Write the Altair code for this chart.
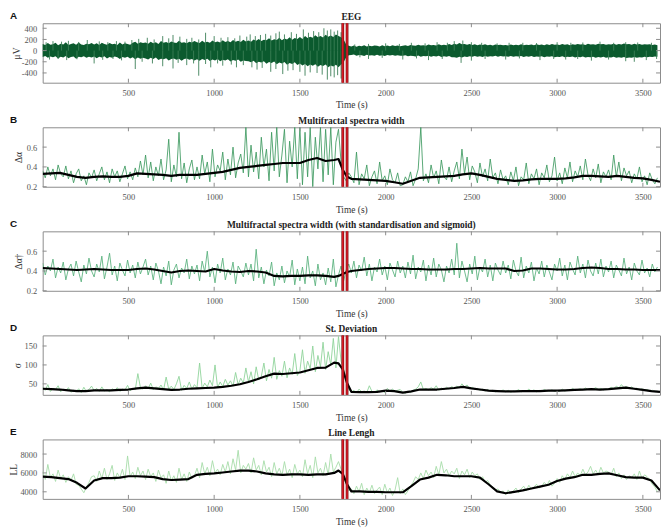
import altair as alt
import pandas as pd

# ---------------- data ----------------
T_SMOOTH = list(range(0, 1701, 50)) + [1725, 1750, 1775] + list(range(1800, 3601, 50))
STEP = 15  # sampling of the noisy traces (s)
X_TICKS = [500, 1000, 1500, 2000, 2500, 3000, 3500]
SEIZURE = [1750, 1775]

# Panel A: EEG dense band (upper / lower envelope every 15 s) and large spikes
EEG_HI = [120, 100, 135, 105, 115, 140, 95, 125, 110, 150, 100, 120, 130, 105, 145, 110, 100, 125, 115, 135,
          110, 130, 100, 140, 120, 105, 135, 115, 125, 100, 145, 110, 130, 120, 105, 140, 160, 125, 150, 135,
          145, 125, 160, 130, 150, 120, 170, 140, 155, 130, 165, 145, 135, 175, 140, 150, 130, 160, 145, 170,
          150, 135, 175, 145, 160, 140, 180, 150, 165, 145, 185, 155, 170, 150, 190, 160, 175, 155, 195, 165,
          180, 160, 200, 175, 210, 170, 195, 185, 220, 180, 205, 190, 230, 185, 215, 200, 240, 195, 225, 210,
          245, 210, 260, 225, 250, 230, 275, 240, 260, 235, 285, 250, 270, 245, 290, 260, 240, 200, 110, 85,
          75, 90, 70, 85, 80, 95, 72, 88, 78, 92, 85, 75, 95, 80, 90, 78, 98, 84, 92, 80,
          88, 95, 82, 100, 90, 85, 105, 92, 98, 88, 110, 95, 102, 90, 115, 98, 105, 94, 120, 100,
          125, 110, 135, 115, 120, 105, 118, 100, 112, 96, 108, 100, 115, 98, 105, 92, 110, 100, 104, 95,
          100, 92, 108, 96, 104, 98, 112, 95, 106, 100, 110, 97, 115, 102, 108, 96, 112, 100, 118, 104,
          110, 100, 118, 105, 112, 98, 115, 104, 120, 108, 114, 102, 122, 110, 116, 104, 125, 112, 118, 106,
          115, 108, 122, 104, 118, 110, 126, 112, 120, 106, 124, 110, 118, 104, 116, 108, 112, 102, 110, 98]
EEG_LO = [-115, -95, -130, -105, -120, -100, -140, -110, -125, -95, -135, -115, -105, -145, -110, -120, -100, -130, -110, -125,
          -105, -135, -110, -125, -100, -140, -115, -130, -105, -120, -150, -115, -130, -110, -140, -120, -155, -125, -145, -130,
          -140, -160, -130, -150, -125, -170, -145, -155, -135, -175, -150, -140, -165, -145, -180, -150, -140, -165, -150, -175,
          -155, -180, -150, -170, -145, -185, -160, -175, -150, -190, -165, -175, -155, -195, -170, -180, -160, -200, -175, -185,
          -190, -210, -180, -225, -200, -215, -190, -235, -205, -220, -195, -245, -215, -230, -205, -255, -220, -240, -210, -260,
          -230, -265, -240, -280, -250, -270, -245, -290, -260, -275, -250, -300, -265, -285, -255, -300, -250, -210, -120, -85,
          -80, -70, -90, -78, -85, -95, -75, -88, -82, -92, -76, -90, -84, -96, -80, -88, -78, -94, -85, -90,
          -92, -85, -100, -90, -96, -105, -88, -110, -95, -102, -90, -112, -98, -106, -94, -115, -100, -108, -96, -120,
          -118, -130, -110, -125, -105, -115, -100, -112, -98, -108, -102, -115, -96, -110, -100, -106, -94, -112, -98, -104,
          -100, -108, -95, -112, -100, -106, -96, -114, -102, -110, -98, -116, -104, -108, -100, -118, -106, -112, -102, -120,
          -108, -116, -102, -120, -110, -114, -104, -122, -112, -118, -106, -124, -114, -120, -108, -126, -116, -122, -110, -128,
          -118, -124, -112, -130, -120, -126, -114, -132, -122, -128, -116, -126, -118, -122, -112, -120, -108, -116, -104, -110]
SPIKE_T = [20, 60, 110, 150, 210, 260, 330, 380, 430, 480,
           40, 90, 140, 200, 300, 350, 410, 460,
           520, 560, 610, 650, 700, 735, 760, 800, 840, 870, 910, 950, 1000, 1040, 1080, 1120, 1150, 1190,
           540, 580, 640, 700, 760, 790, 840, 880, 910, 950, 980, 1020, 1050, 1100, 1130, 1170,
           1210, 1240, 1270, 1300, 1330, 1360, 1380, 1410, 1450, 1480, 1520, 1550, 1580, 1610, 1640, 1660, 1680, 1700, 1720, 1740,
           1220, 1250, 1280, 1330, 1360, 1400, 1430, 1460, 1500, 1530, 1560, 1600, 1630, 1660, 1680, 1700, 1720, 1740,
           1820, 1900, 2000, 2080, 2150, 2230, 2300, 2360, 2400, 2450, 2500, 2560, 2650, 2720, 2800, 2880, 3000, 3080, 3150, 3250, 3330, 3400, 3470, 3550,
           1850, 1900, 1980, 2100, 2180, 2250, 2330, 2440, 2500, 2580, 2700, 2780, 2900, 2980, 3050, 3120, 3200, 3300, 3400, 3450, 3520, 3580]
SPIKE_V = [150, 170, 160, 175, 155, 190, 165, 150, 170, 160,
           -160, -150, -170, -155, -230, -165, -150, -175,
           190, 210, 230, 200, 260, 220, 280, 250, 210, 230, 200, 320, 260, 230, 240, 220, 270, 250,
           -330, -200, -230, -280, -320, -220, -260, -230, -450, -240, -300, -230, -270, -250, -300, -260,
           290, 260, 280, 300, 270, 310, 340, 290, 330, 300, 380, 320, 350, 330, 400, 360, 380, 340, 360, 330,
           -300, -340, -310, -380, -330, -420, -360, -350, -380, -450, -390, -400, -430, -520, -460, -480, -440, -500,
           110, 120, 130, 120, 140, 130, 150, 140, 170, 180, 150, 140, 130, 140, 140, 135, 150, 140, 145, 160, 140, 150, 145, 140,
           -120, -150, -130, -160, -140, -170, -150, -220, -180, -150, -160, -140, -170, -150, -160, -150, -180, -160, -190, -200, -170, -150]

# Panel B: multifractal spectra width
B_GREEN = [0.36, 0.29, 0.40, 0.31, 0.38, 0.27, 0.42, 0.33, 0.30, 0.41, 0.28, 0.36, 0.24, 0.33, 0.38, 0.26, 0.31, 0.22, 0.34, 0.29,
           0.37, 0.26, 0.33, 0.40, 0.27, 0.35, 0.24, 0.38, 0.30, 0.36, 0.25, 0.33, 0.41, 0.28, 0.35, 0.27, 0.39, 0.30, 0.46, 0.32,
           0.52, 0.29, 0.45, 0.26, 0.40, 0.31, 0.48, 0.27, 0.37, 0.68, 0.25, 0.42, 0.30, 0.75, 0.28, 0.44, 0.24, 0.38, 0.47, 0.27,
           0.40, 0.28, 0.52, 0.33, 0.45, 0.25, 0.58, 0.30, 0.42, 0.36, 0.55, 0.27, 0.48, 0.32, 0.60, 0.29, 0.44, 0.53, 0.34, 0.80,
           0.30, 0.62, 0.35, 0.55, 0.28, 0.70, 0.40, 0.58, 0.26, 0.75, 0.36, 0.80, 0.30, 0.52, 0.78, 0.24, 0.66, 0.40, 0.80, 0.28,
           0.80, 0.22, 0.75, 0.30, 0.80, 0.20, 0.70, 0.38, 0.80, 0.25, 0.78, 0.32, 0.80, 0.22, 0.65, 0.78, 0.45, 0.30, 0.26, 0.34,
           0.30, 0.24, 0.55, 0.22, 0.33, 0.28, 0.42, 0.21, 0.30, 0.36, 0.23, 0.45, 0.26, 0.31, 0.22, 0.38, 0.27, 0.24, 0.34, 0.21,
           0.22, 0.30, 0.25, 0.35, 0.21, 0.28, 0.38, 0.80, 0.26, 0.33, 0.24, 0.42, 0.29, 0.36, 0.23, 0.47, 0.30, 0.27, 0.40, 0.25,
           0.36, 0.45, 0.28, 0.58, 0.33, 0.50, 0.27, 0.41, 0.35, 0.24, 0.44, 0.30, 0.38, 0.26, 0.48, 0.29, 0.34, 0.23, 0.37, 0.27,
           0.31, 0.22, 0.35, 0.26, 0.40, 0.21, 0.30, 0.27, 0.44, 0.23, 0.33, 0.28, 0.38, 0.22, 0.34, 0.29, 0.42, 0.25, 0.31, 0.50,
           0.26, 0.34, 0.23, 0.39, 0.29, 0.45, 0.25, 0.36, 0.30, 0.41, 0.27, 0.48, 0.32, 0.26, 0.38, 0.29, 0.43, 0.24, 0.35, 0.30,
           0.37, 0.27, 0.52, 0.30, 0.45, 0.26, 0.39, 0.31, 0.36, 0.24, 0.33, 0.28, 0.40, 0.25, 0.31, 0.22, 0.34, 0.27, 0.23, 0.29]
B_BLACK = [0.33, 0.335, 0.34, 0.32, 0.30, 0.29, 0.30, 0.305, 0.30, 0.30,
           0.31, 0.335, 0.33, 0.325, 0.32, 0.31, 0.32, 0.32, 0.32, 0.33,
           0.34, 0.35, 0.37, 0.39, 0.40, 0.41, 0.42, 0.43, 0.44, 0.44,
           0.44, 0.47, 0.49, 0.46, 0.47,
           0.48, 0.37, 0.30,
           0.28, 0.275, 0.27, 0.265, 0.26, 0.245, 0.23, 0.26, 0.29, 0.295,
           0.30, 0.305, 0.31, 0.325, 0.335, 0.32, 0.30, 0.28, 0.27, 0.26,
           0.265, 0.275, 0.28, 0.28, 0.28, 0.285, 0.295, 0.31, 0.31, 0.305,
           0.30, 0.31, 0.30, 0.29, 0.285, 0.27, 0.25]

# Panel C: multifractal spectra width (standardised + sigmoid)
C_GREEN = [0.48, 0.36, 0.45, 0.40, 0.52, 0.33, 0.44, 0.38, 0.49, 0.31, 0.42, 0.47, 0.35, 0.50, 0.39, 0.29, 0.46, 0.37, 0.53, 0.40,
           0.34, 0.47, 0.39, 0.55, 0.32, 0.44, 0.58, 0.36, 0.45, 0.30, 0.48, 0.41, 0.35, 0.51, 0.38, 0.46, 0.33, 0.49, 0.37, 0.44,
           0.52, 0.36, 0.45, 0.31, 0.48, 0.40, 0.27, 0.44, 0.35, 0.50, 0.26, 0.41, 0.47, 0.33, 0.43, 0.38, 0.52, 0.32, 0.45, 0.37,
           0.46, 0.30, 0.50, 0.39, 0.60, 0.34, 0.44, 0.28, 0.47, 0.38, 0.53, 0.31, 0.42, 0.36, 0.49, 0.27, 0.45, 0.40, 0.34, 0.48,
           0.36, 0.47, 0.30, 0.62, 0.33, 0.44, 0.27, 0.41, 0.35, 0.49, 0.25, 0.38, 0.31, 0.45, 0.28, 0.40, 0.34, 0.51, 0.26, 0.42,
           0.30, 0.44, 0.27, 0.55, 0.33, 0.40, 0.25, 0.47, 0.31, 0.38, 0.26, 0.43, 0.29, 0.52, 0.24, 0.36, 0.45, 0.30, 0.41, 0.47,
           0.38, 0.50, 0.33, 0.46, 0.40, 0.54, 0.35, 0.47, 0.30, 0.44, 0.39, 0.52, 0.36, 0.45, 0.31, 0.48, 0.41, 0.34, 0.50, 0.38,
           0.45, 0.33, 0.49, 0.37, 0.56, 0.32, 0.44, 0.39, 0.51, 0.30, 0.46, 0.36, 0.53, 0.34, 0.47, 0.41, 0.29, 0.45, 0.38, 0.52,
           0.36, 0.68, 0.33, 0.50, 0.40, 0.29, 0.47, 0.37, 0.55, 0.31, 0.44, 0.39, 0.52, 0.34, 0.46, 0.30, 0.48, 0.41, 0.36, 0.50,
           0.38, 0.46, 0.32, 0.51, 0.40, 0.35, 0.54, 0.33, 0.45, 0.38, 0.49, 0.30, 0.43, 0.37, 0.50, 0.34, 0.46, 0.39, 0.31, 0.47,
           0.40, 0.53, 0.35, 0.46, 0.31, 0.49, 0.42, 0.36, 0.55, 0.38, 0.47, 0.33, 0.51, 0.40, 0.35, 0.48, 0.37, 0.52, 0.34, 0.45,
           0.39, 0.50, 0.33, 0.46, 0.41, 0.35, 0.53, 0.37, 0.44, 0.31, 0.48, 0.40, 0.36, 0.51, 0.38, 0.43, 0.34, 0.47, 0.39, 0.44]
C_BLACK = [0.43, 0.425, 0.42, 0.415, 0.41, 0.415, 0.42, 0.415, 0.41, 0.41,
           0.41, 0.42, 0.425, 0.415, 0.40, 0.385, 0.40, 0.405, 0.40, 0.395,
           0.42, 0.405, 0.395, 0.39, 0.40, 0.395, 0.385, 0.35, 0.345, 0.35,
           0.35, 0.355, 0.355, 0.35, 0.34,
           0.35, 0.37, 0.39,
           0.40, 0.41, 0.42, 0.425, 0.43, 0.43, 0.425, 0.42, 0.42, 0.415,
           0.415, 0.415, 0.42, 0.42, 0.425, 0.43, 0.425, 0.425, 0.425, 0.40,
           0.405, 0.425, 0.425, 0.42, 0.415, 0.415, 0.42, 0.43, 0.435, 0.43,
           0.42, 0.42, 0.415, 0.415, 0.41, 0.41, 0.41]

# Panel D: standard deviation
D_GREEN = [42, 33, 48, 30, 38, 35, 45, 29, 36, 32, 40, 28, 33, 30, 37, 27, 41, 30, 35, 44,
           32, 38, 30, 42, 31, 35, 29, 37, 33, 40, 30, 36, 34, 46, 32, 38, 35, 77, 40, 36,
           45, 37, 52, 35, 42, 38, 47, 34, 68, 36, 44, 35, 50, 70, 33, 46, 38, 55, 36, 48,
           40, 105, 38, 52, 42, 60, 45, 100, 40, 55, 43, 62, 47, 58, 44, 80, 48, 65, 52, 92,
           55, 82, 50, 95, 60, 70, 105, 58, 88, 65, 120, 62, 85, 70, 110, 66, 92, 75, 130, 72,
           85, 140, 78, 110, 90, 150, 82, 125, 95, 160, 88, 135, 100, 170, 92, 175, 110, 90, 60, 35,
           28, 33, 26, 36, 29, 31, 27, 45, 30, 28, 34, 29, 32, 27, 38, 31, 36, 30, 33, 35,
           28, 25, 31, 27, 33, 36, 42, 55, 35, 38, 34, 40, 36, 45, 33, 39, 35, 41, 36, 43,
           38, 44, 40, 50, 42, 47, 37, 41, 35, 38, 33, 36, 31, 35, 30, 33, 29, 32, 30, 34,
           29, 33, 28, 31, 30, 35, 29, 32, 30, 36, 31, 34, 29, 33, 30, 35, 32, 31, 34, 30,
           33, 30, 36, 31, 34, 32, 38, 33, 35, 37, 34, 39, 35, 37, 36, 40, 35, 38, 34, 37,
           36, 41, 37, 44, 39, 48, 40, 43, 38, 42, 36, 39, 34, 37, 33, 35, 31, 33, 29, 31]
D_BLACK = [37, 36, 35, 33, 31, 31, 33, 33, 33, 34,
           35, 38, 40, 38, 36, 34, 35, 37, 38, 39,
           40, 42, 45, 49, 55, 62, 70, 77, 76, 78,
           80, 86, 92, 93, 106,
           104, 88, 52,
           29, 28, 28, 29, 32, 31, 27, 30, 35, 35,
           35, 37, 39, 42, 38, 35, 32, 31, 30, 30,
           31, 31, 31, 32, 32, 33, 34, 35, 36, 35,
           36, 38, 40, 37, 34, 31, 29]

# Panel E: line length
E_GREEN = [6200, 5300, 6900, 5500, 5900, 5100, 6300, 5400, 5800, 5000, 5600, 5200, 5900, 4800, 4700, 4300, 3900, 4500, 5000, 5600,
           5700, 5100, 6200, 5400, 6500, 5300, 5900, 6800, 5200, 6000, 5500, 6400, 5300, 7800, 5600, 6100, 5400, 6600, 5700, 6200,
           5300, 6400, 5600, 6000, 5100, 6300, 5500, 5800, 4900, 6200, 5200, 5700, 5000, 6500, 5300, 5900, 5100, 6100, 5400, 5700,
           6500, 5500, 7100, 5900, 6600, 5700, 7300, 6000, 6400, 5800, 6900, 6100, 7200, 5900, 7500, 6300, 8400, 6000, 6800, 6400,
           7000, 6000, 7600, 6300, 6800, 5800, 7300, 6100, 6600, 5600, 7100, 5900, 6500, 5700, 7200, 5800, 6400, 5500, 6900, 5900,
           6300, 5600, 7400, 5900, 6800, 5500, 7700, 6000, 6500, 5700, 7100, 5800, 8000, 6100, 6600, 7200, 6400, 5600, 4800, 4100,
           4300, 3800, 4600, 4000, 4900, 3700, 4400, 3900, 4700, 3800, 4200, 4500, 3700, 4800, 3900, 4400, 3600, 4200, 5500, 3800,
           4300, 3700, 4100, 4600, 5000, 5600, 5300, 6000, 5400, 6300, 5700, 6100, 5500, 6700, 5800, 7200, 6000, 6400, 5700, 6200,
           5900, 6500, 5400, 6200, 5800, 6400, 5500, 6100, 5700, 5900, 5300, 5600, 5000, 5200, 4700, 4500, 4200, 4300, 3900, 4100,
           3700, 4200, 3800, 4100, 4400, 3900, 4300, 4600, 4100, 4700, 4300, 4500, 4800, 4400, 4600, 5000, 4700, 5200, 4600, 4900,
           5400, 5000, 5700, 5300, 5900, 5500, 6200, 5600, 6000, 5700, 6400, 5800, 6100, 6700, 5900, 6300, 5800, 6600, 6000, 6200,
           6100, 5800, 6500, 5600, 6000, 5400, 5800, 5300, 5700, 5500, 5900, 5300, 6200, 5400, 5800, 5600, 5300, 4800, 4500, 4000]
E_BLACK = [5600, 5550, 5450, 5350, 4950, 4350, 5200, 5450, 5450, 5500,
           5650, 5650, 5600, 5550, 5350, 5250, 5300, 5350, 5800, 5900,
           5950, 6050, 6150, 6250, 6250, 6150, 5950, 5850, 5800, 5850,
           5850, 5800, 5850, 5850, 6000,
           6250, 5900, 4800,
           4050, 4050, 4000, 4000, 3950, 3950, 3950, 4600, 5300, 5500,
           5800, 5750, 5650, 5650, 5650, 5500, 4800, 4050, 3850, 4000,
           4150, 4350, 4550, 4750, 5150, 5400, 5550, 5800, 5800, 5900,
           5950, 5750, 5550, 5500, 5500, 5200, 4150]

# ---------------- styling ----------------
W, H = 623, 60
SERIF = "Liberation Serif"
FRAME = "#8c8c8c"
LETTER_X = -33


def series_df(values):
    return pd.DataFrame({"t": [STEP * i for i in range(len(values))], "v": values})


def smooth_df(values):
    pairs = list(zip(T_SMOOTH, values))
    return pd.DataFrame({"t": [p[0] for p in pairs], "v": [p[1] for p in pairs]})


def panel(letter, title, ytitle, ydom, yticks, title_x, black=None, green=None,
          gcolor="#3d995f", gopacity=1.0, eeg=False):
    xs = alt.Scale(domain=[0, 3600], nice=False, zero=False)
    ys = alt.Scale(domain=ydom, nice=False, zero=False)
    xax = alt.Axis(values=X_TICKS, title="Time (s)", labelExpr="'' + datum.value")
    yax = alt.Axis(values=yticks, title=ytitle, titleX=title_x,
                   labelExpr="'' + datum.value")
    X = alt.X("t:Q", scale=xs, axis=xax)
    Y = alt.Y("v:Q", scale=ys, axis=yax)
    layers = []
    if eeg:
        n = min(len(EEG_HI), len(EEG_LO))
        band = pd.DataFrame({"t": [STEP * i for i in range(n)], "v": EEG_HI[:n], "lo": EEG_LO[:n]})
        layers.append(alt.Chart(band).mark_area(color="#0b5a2e").encode(x=X, y=Y, y2="lo:Q"))
        sp = pd.DataFrame({"t": SPIKE_T, "v": SPIKE_V, "z": [0] * len(SPIKE_T)})
        layers.append(alt.Chart(sp).mark_rule(color="#3b7f57", strokeWidth=0.9).encode(
            x=X, y=Y, y2="z:Q"))
    else:
        layers.append(alt.Chart(series_df(green)).mark_line(
            color=gcolor, strokeWidth=0.9, opacity=gopacity, clip=True).encode(x=X, y=Y))
        layers.append(alt.Chart(smooth_df(black)).mark_line(
            color="#000000", strokeWidth=2.2, strokeJoin="round", clip=True).encode(x=X, y=Y))
    red = pd.DataFrame({"t": SEIZURE})
    layers.append(alt.Chart(red).mark_rule(color="#7a0d0d", strokeWidth=2.8).encode(x=X))
    layers.append(alt.Chart(red).mark_rule(color="#e11d2a", strokeWidth=1.4).encode(x=X))
    xt = pd.DataFrame({"t": X_TICKS})
    yt = pd.DataFrame({"v": yticks})
    layers.append(alt.Chart(xt).mark_rule(color=FRAME, strokeWidth=1).encode(
        x=X, y=alt.value(0), y2=alt.value(4)))
    layers.append(alt.Chart(xt).mark_rule(color=FRAME, strokeWidth=1).encode(
        x=X, y=alt.value(H - 4), y2=alt.value(H)))
    layers.append(alt.Chart(yt).mark_rule(color=FRAME, strokeWidth=1).encode(
        y=Y, x=alt.value(0), x2=alt.value(4)))
    layers.append(alt.Chart(yt).mark_rule(color=FRAME, strokeWidth=1).encode(
        y=Y, x=alt.value(W - 4), x2=alt.value(W)))
    # panel letter and panel title, drawn just above the frame
    layers.append(alt.Chart(pd.DataFrame({"lab": [letter]})).mark_text(
        font="Liberation Sans", fontWeight="bold", fontSize=10, align="left",
        baseline="middle", color="#111111").encode(
        x=alt.value(LETTER_X), y=alt.value(-7.5), text="lab:N"))
    layers.append(alt.Chart(pd.DataFrame({"lab": [title]})).mark_text(
        font=SERIF, fontWeight="bold", fontSize=9.5, align="center",
        baseline="middle", color="#222222").encode(
        x=alt.value(W / 2), y=alt.value(-6.5), text="lab:N"))
    return alt.layer(*layers).properties(width=W, height=H)


pA = panel("A", "EEG", "μV", [-575, 490], [-400, -200, 0, 200, 400], -21, eeg=True)
pB = panel("B", "Multifractal spectra width", "Δα", [0.2, 0.8], [0.2, 0.4, 0.6], -19,
           black=B_BLACK, green=B_GREEN, gcolor="#3d995f", gopacity=0.95)
pC = panel("C", "Multifractal spectra width (with standardisation and sigmoid)", "Δα†",
           [0.2, 0.8], [0.2, 0.4, 0.6], -19,
           black=C_BLACK, green=C_GREEN, gcolor="#55b07a", gopacity=0.95)
pD = panel("D", "St. Deviation", "σ", [21, 178], [50, 100, 150], -20,
           black=D_BLACK, green=D_GREEN, gcolor="#8fd39a", gopacity=1.0)
pE = panel("E", "Line Lengh", "LL", [3250, 9550], [4000, 6000, 8000], -24,
           black=E_BLACK, green=E_GREEN, gcolor="#a6dca9", gopacity=1.0)

chart = alt.vconcat(pA, pB, pC, pD, pE, spacing=4).properties(
    padding={"left": 0, "right": 0, "top": 0, "bottom": 0},
    background="white",
).configure_axis(
    labelFont=SERIF, labelFontSize=8.5, labelColor="#555555",
    titleFont=SERIF, titleFontSize=9.5, titleFontWeight="normal", titleColor="#333333",
    ticks=False, domain=False, grid=False, labelPadding=6, titlePadding=3,
).configure_view(stroke=FRAME, strokeWidth=1)

chart.save("out.html", embed_options={"renderer": "svg", "actions": False})
